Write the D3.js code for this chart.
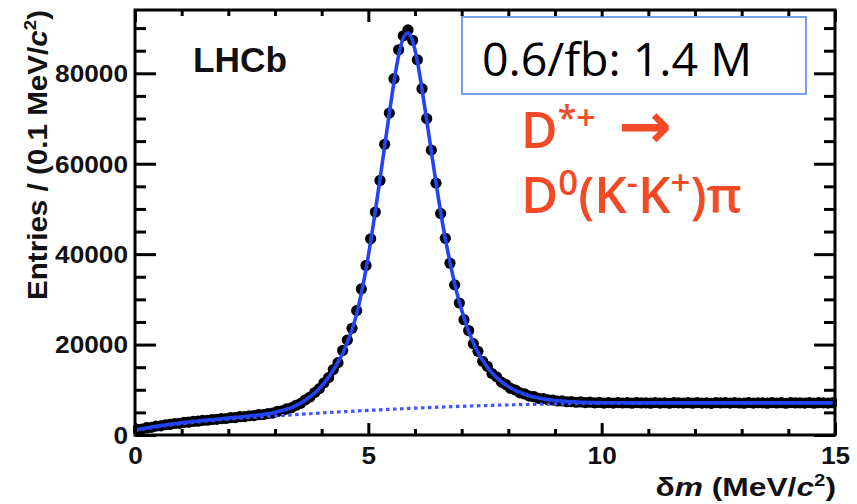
<!DOCTYPE html>
<html><head><meta charset="utf-8">
<script src="https://cdn.jsdelivr.net/npm/d3@7"></script>
<style>body{margin:0;background:#fff} svg{display:block}</style>
</head><body>
<svg id="c" width="857" height="504"></svg>
<script>
// ---- data (bin width 0.1 MeV/c^2, first bin centre 0.05) ----
const binStart = 0.05, binWidth = 0.1;
const entries = [
 1250,1300,1620,1700,1960,2030,2270,2330,2540,2580,
 2800,2830,3020,3050,3240,3260,3430,3460,3640,3650,
 3840,3860,4050,4060,4260,4280,4490,4530,4760,4830,
 5210,5360,5770,6010,6580,7000,7790,8400,9400,10250,
 11560,12720,14480,16000,18700,21000,23600,27500,32300,37500,
 43400,49300,56300,64300,71200,78800,85200,88300,89600,87300,
 83000,76600,70000,63000,55700,49000,43500,38000,33200,29200,
 25500,23100,20200,18500,16300,15200,13600,12850,11700,11150,
 10300,9950,9320,9080,8600,8470,8100,8050,7760,7740,
 7520,7550,7350,7400,7240,7310,7170,7250,7120,7200,
 7060,7180,7050,7160,7080,7140,7030,7170,7090,7120,
 7040,7190,7070,7130,7020,7160,7100,7060,7150,7040,
 7180,7070,7120,7010,7170,7090,7140,7050,7160,7080,
 7030,7190,7060,7130,7100,7040,7170,7080,7150,7020,
 7160,7090,7120,7060,7180,7040,7140,7100,7070,7150
];
const fitTotal = [
 1150,1360,1560,1740,1910,2070,2220,2360,2490,2620,
 2740,2860,2970,3080,3190,3290,3390,3490,3590,3690,
 3790,3890,3990,4090,4200,4310,4430,4560,4700,4850,
 5150,5400,5700,6050,6500,7050,7700,8450,9300,10300,
 11450,12800,14350,16100,18100,20500,23300,26800,31300,36700,
 42800,49500,56600,63900,71100,78100,84000,87800,88900,87100,
 82700,76500,69700,62700,55800,49300,43400,38200,33500,29400,
 25900,22900,20400,18300,16500,15000,13750,12700,11800,11050,
 10400,9850,9400,9000,8680,8400,8170,7980,7820,7690,
 7580,7490,7410,7350,7300,7260,7220,7190,7170,7150,
 7140,7135,7130,7125,7120,7115,7112,7110,7108,7106,
 7105,7104,7103,7102,7101,7100,7100,7100,7100,7100,
 7100,7100,7100,7100,7100,7100,7100,7100,7100,7100,
 7100,7100,7100,7100,7100,7100,7100,7100,7100,7100,
 7100,7100,7100,7100,7100,7100,7100,7100,7100,7100
];
const bkgX = [0,0.5,1,1.5,2,2.5,3,3.5,4,4.5,5,5.5,6,6.5,7,7.5,8,8.5,9,9.5,10,10.5,11,11.5,12,12.5,13,13.5,14,14.5,15];
const bkgFit = [1000,1850,2500,3050,3500,3900,4220,4550,4880,5170,5440,5700,5940,6150,6340,6510,6650,6770,6870,6950,7010,7050,7070,7080,7090,7090,7095,7095,7100,7100,7100];

const xMajorTicks = [0,5,10,15];
const xTickLabels = ["0","5","10","15"];
const xMinorTicks = [1,2,3,4,6,7,8,9,11,12,13,14];
const yMajorTicks = [0,20000,40000,60000,80000];
const yTickLabels = ["0","20000","40000","60000","80000"];
const yMinorTicks = [5000,10000,15000,25000,30000,35000,45000,50000,55000,65000,70000,75000,85000,90000];

// ---- layout ----
const svg = d3.select("#c");
const L = 135, R = 835, T = 10, B = 435;
const x = d3.scaleLinear().domain([0,15]).range([L,R]);
const y = d3.scaleLinear().domain([0,94000]).range([B,T]);
const tickFont = "'Liberation Sans', Arial, Helvetica, sans-serif";

function stretch(sel, f){
  sel.each(function(){
    const w = this.getComputedTextLength();
    d3.select(this).attr("textLength", w*f).attr("lengthAdjust","spacingAndGlyphs");
  });
}

svg.append("rect").attr("width",857).attr("height",504).attr("fill","#fff");

svg.append("defs").append("clipPath").attr("id","clip")
  .append("rect").attr("x",L-2).attr("y",T).attr("width",R-L+4).attr("height",B-T);

const plot = svg.append("g").attr("clip-path","url(#clip)");

// data points
plot.append("g").selectAll("circle").data(entries).join("circle")
  .attr("cx",(d,i)=>x(binStart + i*binWidth))
  .attr("cy",d=>y(d))
  .attr("r",5.6)
  .attr("fill","#000");

// background component (dotted)
plot.append("path")
  .datum(bkgX.map((v,i)=>[v,bkgFit[i]]))
  .attr("d", d3.line().x(d=>x(d[0])).y(d=>y(d[1])).curve(d3.curveMonotoneX))
  .attr("fill","none").attr("stroke","#3f55ff").attr("stroke-width",3.2)
  .attr("stroke-dasharray","3.5,3.5");

// total fit
plot.append("path")
  .datum(fitTotal.map((v,i)=>[binStart + i*binWidth, v]))
  .attr("d", d3.line().x(d=>x(d[0])).y(d=>y(d[1])).curve(d3.curveMonotoneX))
  .attr("fill","none").attr("stroke","#2443f5").attr("stroke-width",3.6)
  .attr("stroke-linejoin","round");

// ---- axes ----
function styleAxis(g){
  g.select(".domain").remove();
  g.selectAll(".tick line").attr("stroke","#000").attr("stroke-width",3);
}
const gLeftMinor = svg.append("g").attr("transform",`translate(${L},0)`)
  .call(d3.axisLeft(y).tickValues(yMinorTicks).tickSizeInner(-11).tickSizeOuter(0).tickFormat(""));
styleAxis(gLeftMinor);
const gLeft = svg.append("g").attr("transform",`translate(${L},0)`)
  .call(d3.axisLeft(y).tickValues(yMajorTicks).tickSizeInner(-21).tickSizeOuter(0).tickPadding(7)
        .tickFormat((d,i)=>yTickLabels[i]));
styleAxis(gLeft);
gLeft.selectAll("text").attr("font-family",tickFont).attr("font-weight","bold")
  .attr("font-size",23).attr("fill","#111").attr("dy","0.36em");

const gRightMinor = svg.append("g").attr("transform",`translate(${R},0)`)
  .call(d3.axisRight(y).tickValues(yMinorTicks).tickSizeInner(-11).tickSizeOuter(0).tickFormat(""));
styleAxis(gRightMinor);
const gRight = svg.append("g").attr("transform",`translate(${R},0)`)
  .call(d3.axisRight(y).tickValues(yMajorTicks).tickSizeInner(-21).tickSizeOuter(0).tickFormat(""));
styleAxis(gRight);

const gBottomMinor = svg.append("g").attr("transform",`translate(0,${B})`)
  .call(d3.axisBottom(x).tickValues(xMinorTicks).tickSizeInner(-6).tickSizeOuter(0).tickFormat(""));
styleAxis(gBottomMinor);
const gBottom = svg.append("g").attr("transform",`translate(0,${B})`)
  .call(d3.axisBottom(x).tickValues(xMajorTicks).tickSizeInner(-12).tickSizeOuter(0).tickPadding(13)
        .tickFormat((d,i)=>xTickLabels[i]));
styleAxis(gBottom);
gBottom.selectAll("text").attr("font-family",tickFont).attr("font-weight","bold")
  .attr("font-size",23).attr("fill","#111");

const gTopMinor = svg.append("g").attr("transform",`translate(0,${T})`)
  .call(d3.axisTop(x).tickValues(xMinorTicks).tickSizeInner(-6).tickSizeOuter(0).tickFormat(""));
styleAxis(gTopMinor);
const gTop = svg.append("g").attr("transform",`translate(0,${T})`)
  .call(d3.axisTop(x).tickValues(xMajorTicks).tickSizeInner(-12).tickSizeOuter(0).tickFormat(""));
styleAxis(gTop);

// frame
svg.append("rect").attr("x",L).attr("y",T).attr("width",R-L).attr("height",B-T)
  .attr("fill","none").attr("stroke","#000").attr("stroke-width",3);

stretch(gLeft.selectAll("text"),1.14);
stretch(gBottom.selectAll("text"),1.14);

// axis titles
const xt = svg.append("text").attr("x",836).attr("y",496).attr("text-anchor","end")
  .attr("font-family",tickFont).attr("font-weight","bold").attr("font-size",25).attr("fill","#111");
xt.append("tspan").text("δ");
xt.append("tspan").attr("font-style","italic").text("m");
xt.append("tspan").text(" (MeV/");
xt.append("tspan").attr("font-style","italic").text("c");
xt.append("tspan").attr("font-size",16).attr("dy",-10).text("2");
xt.append("tspan").attr("dy",10).text(")");
stretch(xt,1.27);

const ytG = svg.append("g").attr("transform","translate(47,10) rotate(-90)");
const yt = ytG.append("text").attr("x",0).attr("y",0).attr("text-anchor","end")
  .attr("font-family",tickFont).attr("font-weight","bold").attr("font-size",27).attr("fill","#111");
yt.append("tspan").text("Entries / (0.1 MeV/");
yt.append("tspan").attr("font-style","italic").text("c");
yt.append("tspan").attr("font-size",17).attr("dy",-11).text("2");
yt.append("tspan").attr("dy",11).text(")");
yt.attr("textLength",290).attr("lengthAdjust","spacingAndGlyphs");

// LHCb label
svg.append("text").attr("x",193).attr("y",72)
  .attr("font-family",tickFont).attr("font-weight","bold").attr("font-size",35).attr("fill","#111")
  .attr("textLength",94).attr("lengthAdjust","spacingAndGlyphs").text("LHCb");

// luminosity box
svg.append("rect").attr("x",462).attr("y",17).attr("width",344).attr("height",77)
  .attr("fill","#fff").attr("stroke","#4a82e6").attr("stroke-width",1.5);
svg.append("text").attr("x",482).attr("y",76)
  .attr("font-family","'Open Sans', sans-serif").attr("font-size",45).attr("fill","#000")
  .attr("textLength",270).attr("lengthAdjust","spacingAndGlyphs").text("0.6/fb: 1.4 M");

// decay label
const red = "#f24a26";
const l1 = svg.append("text").attr("x",521).attr("y",148)
  .attr("font-family","'Open Sans', sans-serif").attr("font-weight",600).attr("font-size",50).attr("fill",red);
l1.append("tspan").text("D");
l1.append("tspan").attr("font-size",34).attr("dy",-18).text("*+");
l1.append("tspan").attr("dy",18).attr("font-family","'DejaVu Sans', sans-serif").attr("font-weight","bold").attr("font-size",64).text(" →");

const l2 = svg.append("text").attr("x",521).attr("y",213)
  .attr("font-family","'Open Sans', sans-serif").attr("font-weight",600).attr("font-size",50).attr("fill",red);
l2.append("tspan").text("D");
l2.append("tspan").attr("font-size",34).attr("dy",-18).text("0");
l2.append("tspan").attr("dy",18).text("(K");
l2.append("tspan").attr("font-size",34).attr("dy",-18).text("-");
l2.append("tspan").attr("dy",18).text("K");
l2.append("tspan").attr("font-size",34).attr("dy",-18).text("+");
l2.append("tspan").attr("dy",18).text(")π");
l2.attr("textLength",221).attr("lengthAdjust","spacingAndGlyphs");
</script>
</body></html>
